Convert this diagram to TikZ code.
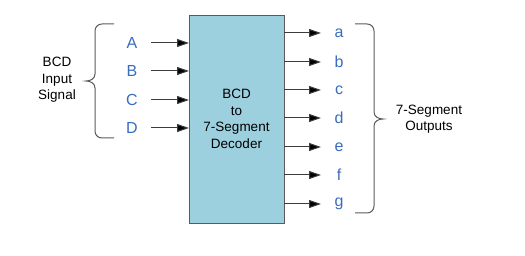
\documentclass[tikz,border=0pt]{standalone}
\usepackage{fontspec}
\setmainfont{Liberation Sans}
\usetikzlibrary{arrows.meta}
\definecolor{boxfill}{RGB}{157,208,222}
\definecolor{boxline}{RGB}{90,90,90}
\definecolor{lblue}{RGB}{58,108,190}
\definecolor{wire}{RGB}{60,60,60}
\begin{document}
\begin{tikzpicture}[x=1pt,y=-1pt,
  letter/.style={text=lblue,font=\fontsize{16}{18}\selectfont,inner sep=0pt},
  note/.style={text=black,font=\fontsize{13.5}{16.5}\selectfont,align=center,inner sep=0pt},
  wirearrow/.style={draw=wire,line width=1pt,-{Triangle[length=12pt,width=8pt,fill=black]}},
  bracepath/.style={draw=boxline,line width=1pt}]
\useasboundingbox (0,0) rectangle (525,256);
\node[draw=boxline,fill=boxfill,line width=1pt,minimum width=95pt,minimum height=208pt,inner sep=0pt,anchor=north west] (dec) at (189,15) {};
\node[note] (dtext) at (236.5,119) {BCD\\to\\7-Segment\\Decoder};
% inputs
\foreach \n/\y in {A/43,B/71,C/100,D/128}{
  \node[letter] (in\n) at (132,\y) {\n};
  \coordinate (s\n) at (151,\y);
  \coordinate (e\n) at (189,\y);
  \draw[wirearrow] (s\n) -- (e\n);
}
% outputs
\foreach \n/\y in {a/33,b/62,c/90,d/118,e/147,f/175,g/204}{
  \coordinate (o\n) at (284,\y);
  \coordinate (t\n) at (321,\y);
  \draw[wirearrow] (o\n) -- (t\n);
  \node[letter] (out\n) at (339,\y) {\n};
}
% left brace
\coordinate (lb1) at (114,24);
\coordinate (lb2) at (114,138);
\draw[bracepath] (lb1) -- (102,24) .. controls (98,24) and (95,27) .. (95,31) -- (95,74)
  .. controls (95,79) and (90,81) .. (86,81)
  .. controls (90,81) and (95,83) .. (95,88) -- (95,131) .. controls (95,135) and (98,138) .. (102,138) -- (lb2);
\node[note] (insig) at (57,80) {BCD\\Input\\Signal};
% right brace
\coordinate (rb1) at (355,24);
\coordinate (rb2) at (355,213);
\draw[bracepath] (rb1) -- (367,24) .. controls (371,24) and (374,27) .. (374,31) -- (374,112)
  .. controls (374,117) and (379,119) .. (383,119)
  .. controls (379,119) and (374,121) .. (374,126) -- (374,206) .. controls (374,210) and (371,213) .. (367,213) -- (rb2);
\node[note] (outsig) at (429,119) {7-Segment\\Outputs};
\end{tikzpicture}
\end{document}
